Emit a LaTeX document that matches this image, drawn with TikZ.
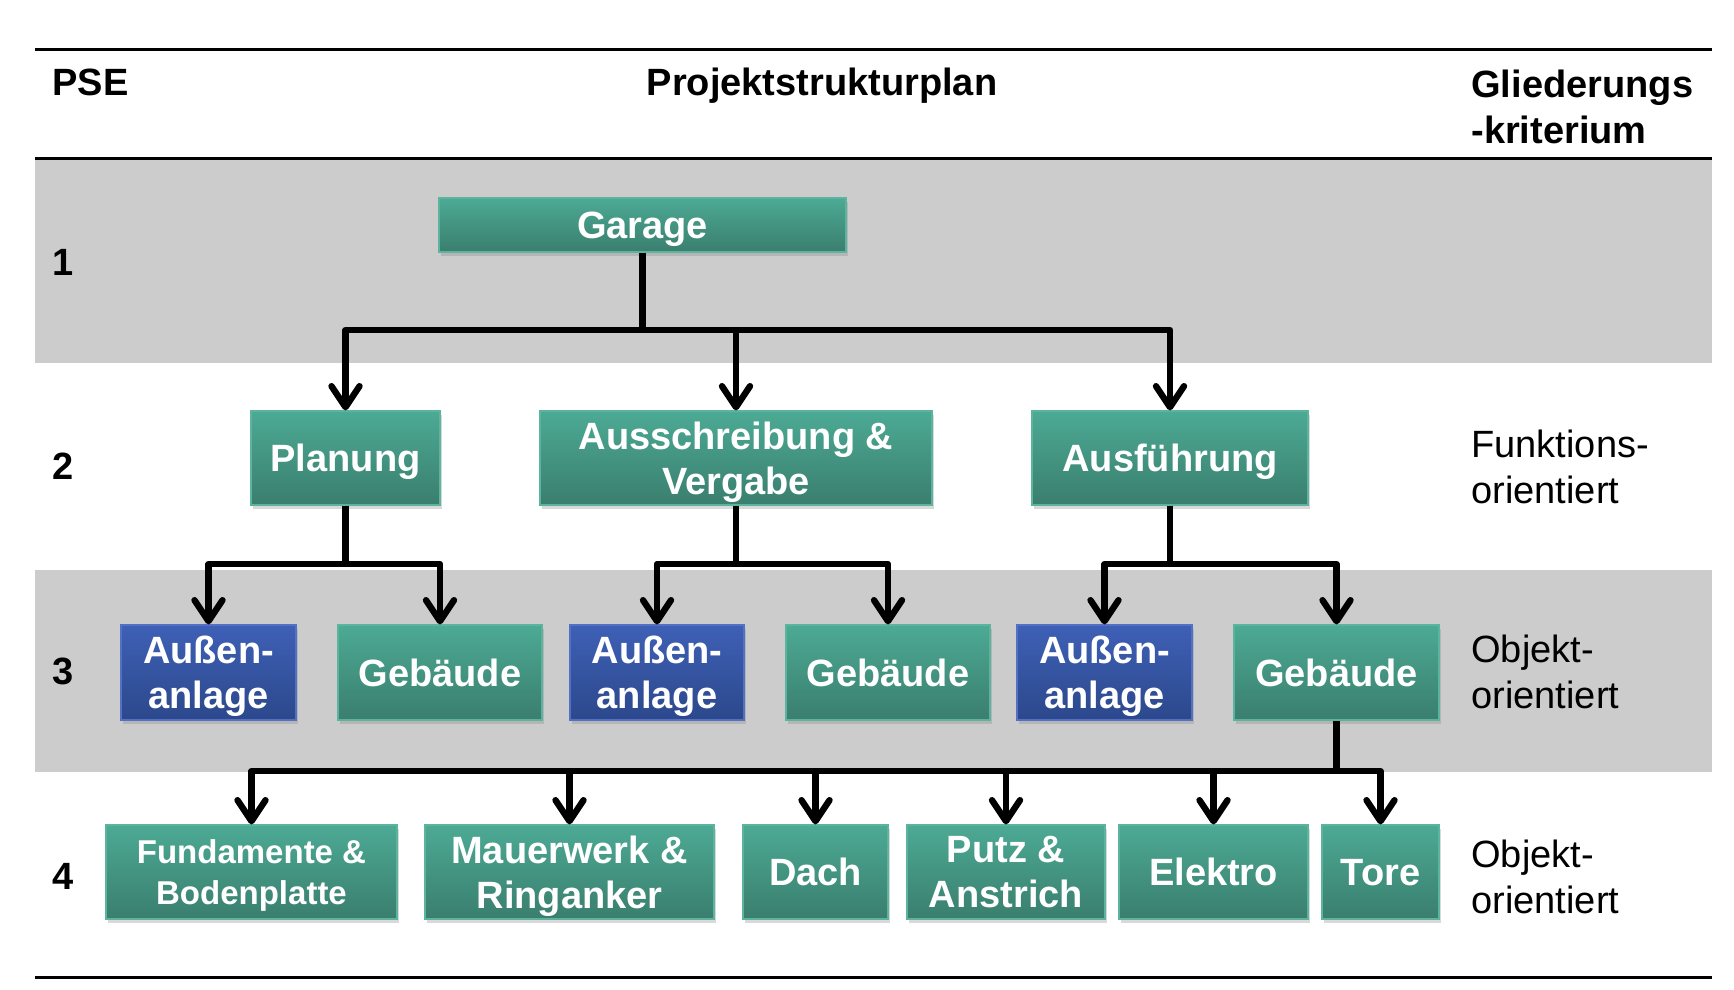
\documentclass[tikz,border=0pt]{standalone}
\usepackage{fontspec}
\setmainfont{Liberation Sans}
\usetikzlibrary{arrows.meta,shadows}
\definecolor{tealTop}{RGB}{76,170,148}
\definecolor{tealBot}{RGB}{58,126,110}
\definecolor{tealBorder}{RGB}{92,180,158}
\definecolor{blueTop}{RGB}{62,96,182}
\definecolor{blueBot}{RGB}{44,72,140}
\definecolor{blueBorder}{RGB}{84,112,196}
\definecolor{band}{RGB}{204,204,204}
\tikzset{
  box/.style={draw=tealBorder, line width=0.6pt, top color=tealTop, bottom color=tealBot,
    text=white, font=\bfseries\fontsize{19}{22.7}\selectfont, align=center, inner sep=0pt,
    text depth=0pt,
    drop shadow={opacity=0.3, shadow xshift=1pt, shadow yshift=-1.8pt}},
  bluebox/.style={box, draw=blueBorder, top color=blueTop, bottom color=blueBot},
  small/.style={font=\bfseries\fontsize{16.5}{20.5}\selectfont},
  trunk/.style={line width=3.2pt},
  conn/.style={line width=3.2pt, line join=round, -{Straight Barb[length=10.5pt, width=14pt, line cap=round, line join=round]}},
  hdr/.style={font=\bfseries\fontsize{19}{23}\selectfont, inner sep=0pt},
  lvl/.style={font=\bfseries\fontsize{19}{23}\selectfont, inner sep=0pt, anchor=west},
  crit/.style={font=\fontsize{19}{22.7}\selectfont, inner sep=0pt, anchor=west, align=left},
  rule/.style={line width=1.5pt}
}
\begin{document}
\begin{tikzpicture}[x=0.5pt,y=-0.5pt]
\useasboundingbox (0,0) rectangle (1734,990);
% bands
\fill[band] (35,160) rectangle (1712,363);
\fill[band] (35,570) rectangle (1712,772);
% rules
\draw[rule] (35,50) -- (1712,50);
\draw[rule] (35,158) -- (1712,158);
\draw[rule] (35,977) -- (1712,977);
% header
\node[hdr, anchor=base west] (pse) at (52,96) {PSE};
\node[hdr, anchor=base] (psp) at (822,96) {Projektstrukturplan};
\node[hdr, anchor=base west, align=left] (gk) at (1471,143) {Gliederungs\\-kriterium};
% level numbers
\node[lvl] (l1) at (52,262) {1};
\node[lvl] (l2) at (52,466) {2};
\node[lvl] (l3) at (52,671) {3};
\node[lvl] (l4) at (52,876) {4};
% criteria
\node[crit] (c2) at (1471,467) {Funktions-\\orientiert};
\node[crit] (c3) at (1471,672) {Objekt-\\orientiert};
\node[crit] (c4) at (1471,877) {Objekt-\\orientiert};
% level 1
\node[box, minimum width=203.5pt, minimum height=27pt] (garage) at (642.5,225) {Garage};
% level 2
\node[box, minimum width=94.5pt, minimum height=47pt] (plan) at (345.5,458) {Planung};
\node[box, minimum width=196pt, minimum height=47pt] (aus) at (736,458) {Ausschreibung \&\\Vergabe};
\node[box, minimum width=138pt, minimum height=47pt] (ausf) at (1170,458) {Ausführung};
% level 3
\node[bluebox, minimum width=87.5pt, minimum height=47.5pt] (aa1) at (208.5,672.5) {Außen-\\anlage};
\node[box, minimum width=102pt, minimum height=47.5pt] (gb1) at (440,672.5) {Gebäude};
\node[bluebox, minimum width=87pt, minimum height=47.5pt] (aa2) at (657,672.5) {Außen-\\anlage};
\node[box, minimum width=102pt, minimum height=47.5pt] (gb2) at (888,672.5) {Gebäude};
\node[bluebox, minimum width=87.5pt, minimum height=47.5pt] (aa3) at (1104.5,672.5) {Außen-\\anlage};
\node[box, minimum width=102.5pt, minimum height=47.5pt] (gb3) at (1336.5,672.5) {Gebäude};
% level 4
\node[box, small, minimum width=145.5pt, minimum height=47pt] (fund) at (251.5,872) {Fundamente \&\\Bodenplatte};
\node[box, minimum width=144.5pt, minimum height=47pt] (mauer) at (569.5,872) {Mauerwerk \&\\Ringanker};
\node[box, minimum width=72.5pt, minimum height=47pt] (dach) at (815.5,872) {Dach};
\node[box, minimum width=99pt, minimum height=47pt] (putz) at (1006,872) {Putz \&\\Anstrich};
\node[box, minimum width=94.5pt, minimum height=47pt] (elektro) at (1213.5,872) {Elektro};
\node[box, minimum width=58.5pt, minimum height=47pt] (tore) at (1380.5,872) {Tore};
% junctions
\coordinate (j1) at (642.5,330);
\coordinate (j2a) at (345.5,564);
\coordinate (j2b) at (736,564);
\coordinate (j2c) at (1170,564);
\coordinate (j3) at (1336.5,771);
% connectors
\draw[trunk] (garage.south) -- (j1);
\draw[conn] (j1) -| (plan.north);
\draw[conn] (j1) -| (aus.north);
\draw[conn] (j1) -| (ausf.north);
\draw[trunk] (plan.south) -- (j2a);
\draw[conn] (j2a) -| (aa1.north);
\draw[conn] (j2a) -| (gb1.north);
\draw[trunk] (aus.south) -- (j2b);
\draw[conn] (j2b) -| (aa2.north);
\draw[conn] (j2b) -| (gb2.north);
\draw[trunk] (ausf.south) -- (j2c);
\draw[conn] (j2c) -| (aa3.north);
\draw[conn] (j2c) -| (gb3.north);
\draw[trunk] (gb3.south) -- (j3);
\draw[conn] (j3) -| (fund.north);
\draw[conn] (j3) -| (mauer.north);
\draw[conn] (j3) -| (dach.north);
\draw[conn] (j3) -| (putz.north);
\draw[conn] (j3) -| (elektro.north);
\draw[conn] (j3) -| (tore.north);
\end{tikzpicture}
\end{document}
